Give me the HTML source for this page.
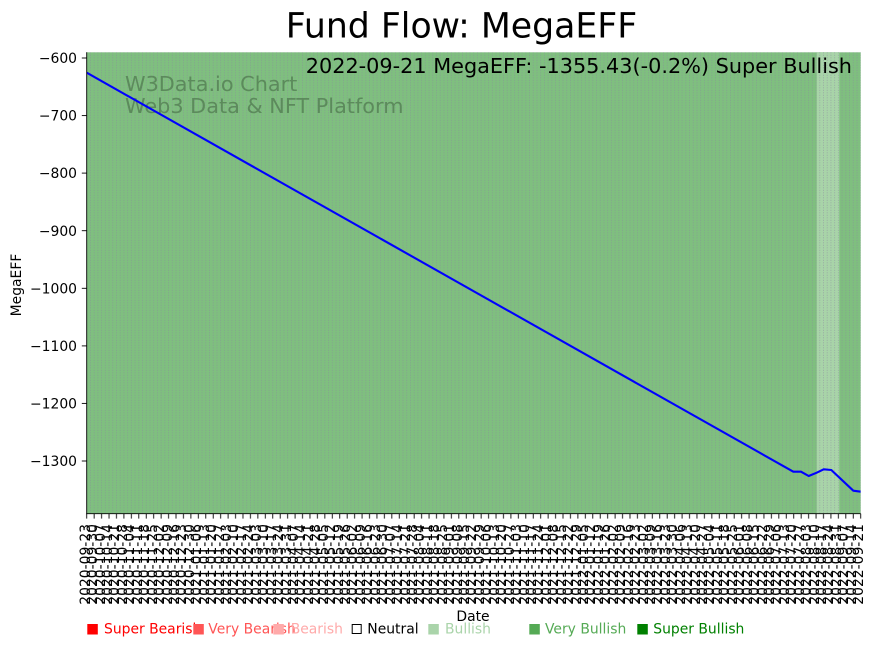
<!DOCTYPE html>
<html>
<head>
<meta charset="utf-8">
<style>
  html,body{margin:0;padding:0;background:#fff;}
  body{width:878px;height:646px;position:relative;overflow:hidden;font-family:"DejaVu Sans","Liberation Sans",sans-serif;}
  svg{position:absolute;left:0;top:0;}
  #xl{position:absolute;left:82.98px;top:523.5px;width:781.45px;height:90px;display:flex;}
  #xl div{flex:none;width:7.4423px;height:90px;position:relative;}
  #xl span{position:absolute;left:50%;top:0;writing-mode:vertical-rl;transform:translateX(-50%) rotate(180deg);font-size:13.9px;line-height:13.9px;white-space:nowrap;color:#000;font-family:"DejaVu Sans","Liberation Sans",sans-serif;}
</style>
</head>
<body>
<svg width="878" height="646" viewBox="0 0 878 646" xmlns="http://www.w3.org/2000/svg">
  <defs>
    <pattern id="grid" x="84.84" y="52.3" width="3.72115" height="10" patternUnits="userSpaceOnUse">
      <line x1="1.861" y1="0" x2="1.861" y2="10" stroke="#8a84a0" stroke-opacity="0.75" stroke-width="0.7" stroke-dasharray="1 1.5"/>
    </pattern>
    <pattern id="tk" x="82.98" y="0" width="7.4423" height="646" patternUnits="userSpaceOnUse">
      <line x1="3.7212" y1="513.7" x2="3.7212" y2="518.6" stroke="#000" stroke-width="0.9"/>
    </pattern>
    <clipPath id="plot"><rect x="86.7" y="52.3" width="774" height="461.4"/></clipPath>
  </defs>
  <rect width="878" height="646" fill="#fff"/>
  <rect x="86.7" y="52.3" width="774" height="461.4" fill="#7fbf7f"/>
  <rect x="816.7" y="52.3" width="22.6" height="461.4" fill="#a8d4a8"/>
  <rect x="86.7" y="52.3" width="774" height="461.4" fill="url(#grid)"/>

  <text x="125" y="91" font-size="20.8" fill="#5c8a5c" font-family="DejaVu Sans, Liberation Sans, sans-serif">W3Data.io Chart</text>
  <text x="125" y="113" font-size="20.8" fill="#5c8a5c" font-family="DejaVu Sans, Liberation Sans, sans-serif">Web3 Data &amp; NFT Platform</text>

  <polyline clip-path="url(#plot)" fill="none" stroke="#0000ff" stroke-width="2.1" stroke-linejoin="round"
    points="86.7,72.7 793.3,471.7 801,471.7 808.7,476 816.7,472.7 823.7,469.3 831.3,470 853.3,490.7 860.7,491.7"/>

  <text x="852" y="73" font-size="20.8" text-anchor="end" fill="#000" font-family="DejaVu Sans, Liberation Sans, sans-serif">2022-09-21 MegaEFF: -1355.43(-0.2%) Super Bullish</text>

  <!-- spines -->
  <line x1="86.7" y1="52.3" x2="86.7" y2="514.1" stroke="#000" stroke-width="0.9"/>
  <line x1="86.3" y1="513.7" x2="860.7" y2="513.7" stroke="#000" stroke-width="0.9"/>
  <rect x="84" y="513" width="779" height="6" fill="url(#tk)"/>

  <!-- y ticks -->
  <g stroke="#000" stroke-width="0.9">
    <line x1="81.8" y1="58" x2="86.7" y2="58"/>
    <line x1="81.8" y1="115.6" x2="86.7" y2="115.6"/>
    <line x1="81.8" y1="173.1" x2="86.7" y2="173.1"/>
    <line x1="81.8" y1="230.7" x2="86.7" y2="230.7"/>
    <line x1="81.8" y1="288.3" x2="86.7" y2="288.3"/>
    <line x1="81.8" y1="345.9" x2="86.7" y2="345.9"/>
    <line x1="81.8" y1="403.4" x2="86.7" y2="403.4"/>
    <line x1="81.8" y1="461" x2="86.7" y2="461"/>
  </g>
  <g font-size="13.9" text-anchor="end" fill="#000" font-family="DejaVu Sans, Liberation Sans, sans-serif">
    <text x="77" y="63.1">−600</text>
    <text x="77" y="120.7">−700</text>
    <text x="77" y="178.2">−800</text>
    <text x="77" y="235.8">−900</text>
    <text x="77" y="293.4">−1000</text>
    <text x="77" y="351">−1100</text>
    <text x="77" y="408.5">−1200</text>
    <text x="77" y="466.1">−1300</text>
  </g>

  <text x="461.5" y="37.5" font-size="34.7" text-anchor="middle" fill="#000" font-family="DejaVu Sans, Liberation Sans, sans-serif">Fund Flow: MegaEFF</text>
  <text transform="translate(21 285) rotate(-90)" font-size="13.9" text-anchor="middle" fill="#000" font-family="DejaVu Sans, Liberation Sans, sans-serif">MegaEFF</text>
  <text x="473" y="621" font-size="13.9" text-anchor="middle" fill="#000" font-family="DejaVu Sans, Liberation Sans, sans-serif">Date</text>

  <!-- legend -->
  <g font-size="13.9" font-family="DejaVu Sans, Liberation Sans, sans-serif">
    <rect x="87.3" y="624" width="10.5" height="10.5" fill="#ff0000"/>
    <text x="104" y="633.5" fill="#ff0000">Super Bearish</text>
    <rect x="193.3" y="624" width="10.5" height="10.5" fill="#ff5555"/>
    <text x="208.3" y="633.5" fill="#ff5555">Very Bearish</text>
    <rect x="273.3" y="624" width="10.5" height="10.5" fill="#ffaaaa"/>
    <text x="290.7" y="633.5" fill="#ffaaaa">Bearish</text>
    <rect x="352.2" y="624.5" width="9" height="9" fill="none" stroke="#000" stroke-width="1"/>
    <text x="367.3" y="633.5" fill="#000">Neutral</text>
    <rect x="428.3" y="624" width="10.5" height="10.5" fill="#aad4aa"/>
    <text x="445" y="633.5" fill="#aad4aa">Bullish</text>
    <rect x="529.3" y="624" width="10.5" height="10.5" fill="#55aa55"/>
    <text x="545" y="633.5" fill="#55aa55">Very Bullish</text>
    <rect x="637.3" y="624" width="10.5" height="10.5" fill="#008000"/>
    <text x="653.3" y="633.5" fill="#008000">Super Bullish</text>
  </g>
</svg>

<div id="xl">
<div><span>2020-09-23</span></div><div><span>2020-09-30</span></div><div><span>2020-10-07</span></div><div><span>2020-10-14</span></div><div><span>2020-10-21</span></div><div><span>2020-10-28</span></div><div><span>2020-11-04</span></div><div><span>2020-11-11</span></div><div><span>2020-11-18</span></div><div><span>2020-11-25</span></div><div><span>2020-12-02</span></div><div><span>2020-12-09</span></div><div><span>2020-12-16</span></div><div><span>2020-12-23</span></div><div><span>2020-12-30</span></div>
<div><span>2021-01-06</span></div><div><span>2021-01-13</span></div><div><span>2021-01-20</span></div><div><span>2021-01-27</span></div><div><span>2021-02-03</span></div><div><span>2021-02-10</span></div><div><span>2021-02-17</span></div><div><span>2021-02-24</span></div><div><span>2021-03-03</span></div><div><span>2021-03-10</span></div><div><span>2021-03-17</span></div><div><span>2021-03-24</span></div><div><span>2021-03-31</span></div><div><span>2021-04-07</span></div><div><span>2021-04-14</span></div><div><span>2021-04-21</span></div><div><span>2021-04-28</span></div><div><span>2021-05-05</span></div><div><span>2021-05-12</span></div><div><span>2021-05-19</span></div><div><span>2021-05-26</span></div><div><span>2021-06-02</span></div><div><span>2021-06-09</span></div><div><span>2021-06-16</span></div><div><span>2021-06-23</span></div><div><span>2021-06-30</span></div><div><span>2021-07-07</span></div><div><span>2021-07-14</span></div><div><span>2021-07-21</span></div><div><span>2021-07-28</span></div><div><span>2021-08-04</span></div><div><span>2021-08-11</span></div><div><span>2021-08-18</span></div><div><span>2021-08-25</span></div><div><span>2021-09-01</span></div><div><span>2021-09-08</span></div><div><span>2021-09-15</span></div><div><span>2021-09-22</span></div><div><span>2021-09-29</span></div><div><span>2021-10-06</span></div><div><span>2021-10-13</span></div><div><span>2021-10-20</span></div><div><span>2021-10-27</span></div><div><span>2021-11-03</span></div><div><span>2021-11-10</span></div><div><span>2021-11-17</span></div><div><span>2021-11-24</span></div><div><span>2021-12-01</span></div><div><span>2021-12-08</span></div><div><span>2021-12-15</span></div><div><span>2021-12-22</span></div><div><span>2021-12-29</span></div>
<div><span>2022-01-05</span></div><div><span>2022-01-12</span></div><div><span>2022-01-19</span></div><div><span>2022-01-26</span></div><div><span>2022-02-02</span></div><div><span>2022-02-09</span></div><div><span>2022-02-16</span></div><div><span>2022-02-23</span></div><div><span>2022-03-02</span></div><div><span>2022-03-09</span></div><div><span>2022-03-16</span></div><div><span>2022-03-23</span></div><div><span>2022-03-30</span></div><div><span>2022-04-06</span></div><div><span>2022-04-13</span></div><div><span>2022-04-20</span></div><div><span>2022-04-27</span></div><div><span>2022-05-04</span></div><div><span>2022-05-11</span></div><div><span>2022-05-18</span></div><div><span>2022-05-25</span></div><div><span>2022-06-01</span></div><div><span>2022-06-08</span></div><div><span>2022-06-15</span></div><div><span>2022-06-22</span></div><div><span>2022-06-29</span></div><div><span>2022-07-06</span></div><div><span>2022-07-13</span></div><div><span>2022-07-20</span></div><div><span>2022-07-27</span></div><div><span>2022-08-03</span></div><div><span>2022-08-10</span></div><div><span>2022-08-17</span></div><div><span>2022-08-24</span></div><div><span>2022-08-31</span></div><div><span>2022-09-07</span></div><div><span>2022-09-14</span></div><div><span>2022-09-21</span></div>
</div>
</body>
</html>
